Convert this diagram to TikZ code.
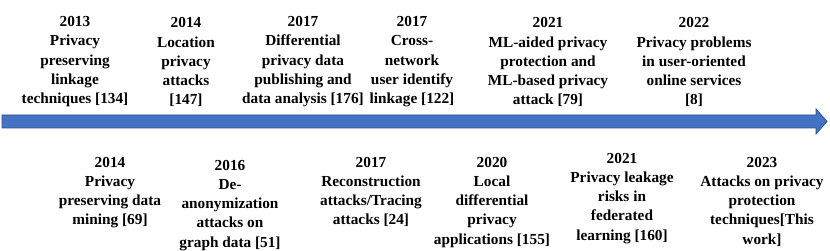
\documentclass[tikz,border=0pt]{standalone}
\usepackage{fontspec}
\setmainfont{Liberation Serif}
\definecolor{arrowblue}{HTML}{4472C4}
\definecolor{arrowedge}{HTML}{2F528F}
\begin{document}
\begin{tikzpicture}[x=1pt,y=-1pt,
  ev/.style={align=center,font=\fontsize{15.3}{19.2}\selectfont\bfseries,inner sep=0pt,text=black},
  topev/.style={ev,anchor=south},
  botev/.style={ev,anchor=north}]
\useasboundingbox (0,0) rectangle (830,251);
\fill[white] (0,0) rectangle (830,251);
% timeline arrow
\draw[fill=arrowblue,draw=arrowedge,line width=0.8pt,line join=miter]
  (2,115) -- (816,115) -- (816,109) -- (827,121.5) -- (816,134) -- (816,128) -- (2,128) -- cycle;
% top row
\node[topev] (t1) at (75,107) {2013\\Privacy\\preserving\\linkage\\techniques [134]};
\node[topev] (t2) at (186,107) {2014\\Location\\privacy\\attacks\\{}[147]};
\node[topev] (t3) at (303,107) {2017\\Differential\\privacy data\\publishing and\\data analysis [176]};
\node[topev] (t4) at (412,107) {2017\\Cross-\\network\\user identify\\linkage [122]};
\node[topev] (t5) at (548,107) {2021\\ML-aided privacy\\protection and\\ML-based privacy\\attack [79]};
\node[topev] (t6) at (694,107) {2022\\Privacy problems\\in user-oriented\\online services\\{}[8]};
% bottom row
\node[botev] (b1) at (110,157) {2014\\Privacy\\preserving data\\mining [69]};
\node[botev] (b2) at (230,160) {2016\\De-\\anonymization\\attacks on\\graph data [51]};
\node[botev] (b3) at (371,157) {2017\\Reconstruction\\attacks/Tracing\\attacks [24]};
\node[botev] (b4) at (492,157) {2020\\Local\\differential\\privacy\\applications [155]};
\node[botev] (b5) at (622,153) {2021\\Privacy leakage\\risks in\\federated\\learning [160]};
\node[botev] (b6) at (762,157) {2023\\Attacks on privacy\\protection\\techniques[This\\work]};
\end{tikzpicture}
\end{document}
